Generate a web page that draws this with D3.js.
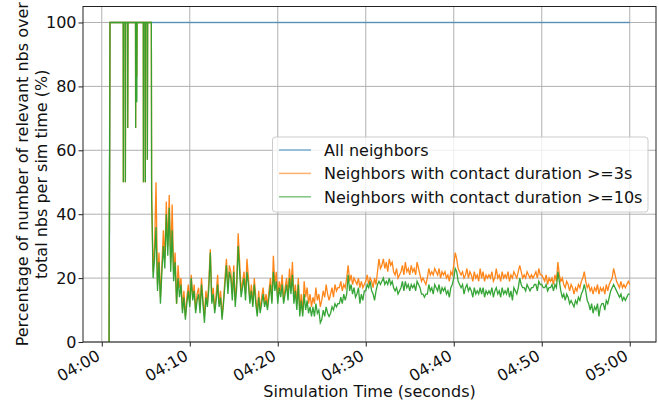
<!DOCTYPE html>
<html><head><meta charset="utf-8">
<script src="https://cdn.jsdelivr.net/npm/d3@7"></script>
<style>body{margin:0;background:#fff} text{font-family:"DejaVu Sans",sans-serif}</style>
</head><body><svg id="c" width="659" height="404"></svg>
<script>
const seriesNames = ["All neighbors", "Neighbors with contact duration >=3s", "Neighbors with contact duration >=10s"];
const seriesColors = ["#1f77b4", "#ff7f0e", "#2ca02c"];
const yTicks = [0, 20, 40, 60, 80, 100];
const xTickLabels = ["04:00", "04:10", "04:20", "04:30", "04:40", "04:50", "05:00"];

// "All neighbors"
const blueTimes = ["04:00:50", "04:00:56", "05:00:00"];
const blueValues = [0, 100, 100];

// early stepped part (orange / green)
const earlyTimes = ["04:00:50","04:00:56","04:02:26","04:02:27","04:02:29","04:02:40","04:02:41","04:02:43",
  "04:02:56","04:02:57","04:02:59","04:03:50","04:03:51","04:03:53","04:03:58","04:03:59","04:04:01",
  "04:04:43","04:04:44","04:04:46","04:04:56","04:04:57","04:04:59","04:05:10","04:05:11","04:05:13","04:05:38"];
const earlyOrange = [0,100,100,50,100,100,50,100,100,67,100,100,67,100,100,83,100,100,50,100,100,50,100,100,57,100,100];
const earlyGreen  = [0,100,100,50,100,100,50,100,100,67,100,100,67,100,100,75,100,100,50,100,100,50,100,100,57,100,100];

// noisy part, sampled every 10 s from 04:05:40
const noisyStart = "04:05:40";
const noisyStepSec = 10;
const orangeNoisy = [
  48,22,
  30,50,18,28,14,24, 35,26,44,30,46,25, 43,22,28,12,24,17, 20,10,16,8,14,18,
  12,21,14,18,10,15, 17,11,20,13,8,16, 12,19,29,14,17,10, 15,21,12,16,8,13,
  20,26,17,24,22,15, 24,13,19,34,25,16, 19,22,15,26,20,13, 18,12,20,14,9,16,
  10,14,17,12,15,11, 16,20,13,27,18,22, 14,19,16,21,13,17, 20,15,23,17,25,14,
  18,12,20,10,15,9, 19,14,17,12,15,11, 14,12,17,13,15,11, 13,16,14,18,15,13,
  15,17,14,18,16,17, 17,19,16,18,17,20, 24,19,21,18,20,19, 18,20,17,19,17,18,
  19,21,18,20,19,17, 20,18,22,26,23,24, 26,23,25,22,26,24, 25,22,21,23,20,21,
  22,24,21,25,22,23, 21,24,22,23,21,25, 23,21,19,20,19,18, 20,23,21,22,21,23,
  22,21,23,20,22,21, 22,20,21,19,22,21, 24,28,26,23,22,21, 22,20,21,23,20,22,
  21,19,22,20,21,19, 23,20,22,19,21,20, 21,20,22,19,20,23, 20,21,19,22,20,21,
  20,22,19,21,20,22, 21,20,22,24,22,20, 21,20,22,21,20,21, 20,21,22,20,23,21,
  21,20,19,21,18,20, 19,20,18,21,19,25, 21,19,20,18,17,19, 18,16,18,17,15,17,
  16,18,17,19,20,22, 19,17,18,16,17,15, 17,16,18,15,17,16, 17,15,18,16,18,19,
  20,23,21,19,18,17, 19,17,18,17,18,19,
  18];
const greenNoisy = [
  45,20,
  26,36,16,25,12,22, 30,23,40,27,42,22, 35,19,25,12,20,14, 18,9,14,7,12,16,
  11,20,13,16,9,13, 15,9,18,12,6,14, 11,17,28,12,15,9, 13,18,11,14,7,12,
  18,24,15,22,20,13, 22,11,17,30,22,14, 17,20,13,22,18,12, 16,11,18,12,8,14,
  9,12,15,11,13,10, 14,18,12,22,16,19, 12,17,14,18,12,15, 18,13,20,15,21,12,
  16,10,18,8,13,8, 15,10,13,9,11,8, 11,8,12,9,10,6, 7,10,8,11,9,8,
  9,11,10,12,11,12, 12,14,12,15,13,15, 21,16,18,15,17,14, 15,17,12,15,13,16,
  16,18,17,19,16,15, 13,16,18,19,18,19, 20,18,19,18,20,18, 19,17,16,17,15,16,
  17,19,16,19,17,18, 16,18,17,18,16,19, 18,17,15,15,14,15, 15,18,16,17,15,18,
  17,16,18,15,17,16, 17,15,16,14,17,18, 20,23,22,19,18,17, 18,15,17,18,16,17,
  16,14,17,15,16,15, 17,15,17,14,16,15, 16,15,17,14,16,17, 15,16,14,17,15,16,
  15,17,14,16,13,17, 16,15,17,20,18,17, 17,16,18,17,16,17, 17,18,18,16,19,18,
  18,17,17,18,16,17, 17,18,16,18,17,22, 19,16,14,15,13,15, 14,12,13,12,11,13,
  12,14,13,15,16,18, 16,13,12,10,12,9, 11,10,12,8,11,12, 12,10,13,12,14,16,
  17,18,17,16,15,14, 15,13,14,13,14,15,
  15];

const svg = d3.select("#c");
const parse = d3.timeParse("%H:%M:%S");
const L = 83, R = 656, T = 6.5, B = 342;
const FS = 16;

const x = d3.scaleTime().domain([parse("03:57:52"), parse("05:02:59")]).range([L, R]);
const y = d3.scaleLinear().domain([0, 105]).range([B, T]);

const t0 = parse(noisyStart);
function buildSeries(earlyVals, noisy) {
  const pts = earlyTimes.map((t, i) => ({t: parse(t), v: earlyVals[i]}));
  noisy.forEach((v, i) => pts.push({t: new Date(t0.getTime() + i * noisyStepSec * 1000), v}));
  return pts;
}
const blue = blueTimes.map((t, i) => ({t: parse(t), v: blueValues[i]}));
const orange = buildSeries(earlyOrange, orangeNoisy);
const green = buildSeries(earlyGreen, greenNoisy);

const xTickDates = xTickLabels.map(s => parse(s + ":00"));

// grid
const g = svg.append("g");
g.selectAll(".gx").data(xTickDates).enter().append("line")
  .attr("x1", d => x(d)).attr("x2", d => x(d)).attr("y1", T).attr("y2", B)
  .attr("stroke", "#b0b0b0").attr("stroke-width", 1);
g.selectAll(".gy").data(yTicks).enter().append("line")
  .attr("x1", L).attr("x2", R).attr("y1", d => y(d)).attr("y2", d => y(d))
  .attr("stroke", "#b0b0b0").attr("stroke-width", 1);

// lines
const line = d3.line().x(d => x(d.t)).y(d => y(d.v));
svg.append("clipPath").attr("id", "pc").append("rect")
  .attr("x", L).attr("y", T).attr("width", R - L).attr("height", B - T);
const pl = svg.append("g").attr("clip-path", "url(#pc)");
pl.append("path").datum(blue).attr("d", line).attr("fill", "none")
  .attr("stroke", seriesColors[0]).attr("stroke-opacity", 0.6).attr("stroke-width", 1.5);
pl.append("path").datum(orange).attr("d", line).attr("fill", "none")
  .attr("stroke", seriesColors[1]).attr("stroke-opacity", 0.95).attr("stroke-width", 1.3);
pl.append("path").datum(green).attr("d", line).attr("fill", "none")
  .attr("stroke", seriesColors[2]).attr("stroke-opacity", 0.95).attr("stroke-width", 1.3);

// axes
const xAxis = svg.append("g").attr("transform", `translate(0,${B})`)
  .call(d3.axisBottom(x).tickValues(xTickDates).tickFormat((d, i) => xTickLabels[i]).tickSize(4.5).tickSizeOuter(0));
xAxis.select(".domain").remove();
xAxis.selectAll(".tick line").attr("stroke", "#222");
xAxis.selectAll(".tick text")
  .attr("font-size", FS).attr("fill", "#111")
  .attr("text-anchor", "end").attr("dy", null).attr("y", null)
  .attr("transform", "translate(-1,17) rotate(-30)");

const yAxis = svg.append("g").attr("transform", `translate(${L},0)`)
  .call(d3.axisLeft(y).tickValues(yTicks).tickSize(4.5).tickSizeOuter(0).tickPadding(2));
yAxis.select(".domain").remove();
yAxis.selectAll(".tick line").attr("stroke", "#222");
yAxis.selectAll(".tick text").attr("font-size", FS).attr("fill", "#111");

// frame
svg.append("rect").attr("x", L).attr("y", T).attr("width", R - L).attr("height", B - T)
  .attr("fill", "none").attr("stroke", "#222").attr("stroke-width", 1);

// labels
svg.append("text").attr("x", (L + R) / 2).attr("y", 397).attr("text-anchor", "middle")
  .attr("font-size", FS).attr("fill", "#111").text("Simulation Time (seconds)");
const yl = svg.append("text").attr("transform", `translate(28,${(T + B) / 2}) rotate(-90)`)
  .attr("text-anchor", "middle").attr("font-size", FS).attr("fill", "#111");
yl.append("tspan").attr("x", 0).attr("dy", 0).text("Percentage of number of relevant nbs over");
yl.append("tspan").attr("x", 0).attr("dy", 18.5).text("total nbs per sim time (%)");

// legend
const lg = svg.append("g");
lg.append("rect").attr("x", 272.5).attr("y", 137).attr("width", 375.5).attr("height", 75)
  .attr("rx", 3).attr("fill", "#fff").attr("fill-opacity", 0.8).attr("stroke", "#cccccc");
seriesNames.forEach((n, i) => {
  const yy = 150 + i * 23.4;
  lg.append("line").attr("x1", 279).attr("x2", 311).attr("y1", yy).attr("y2", yy)
    .attr("stroke", seriesColors[i]).attr("stroke-opacity", 0.6).attr("stroke-width", 1.5);
  lg.append("text").attr("x", 324).attr("y", yy + 5.8).attr("font-size", FS).attr("fill", "#111").text(n);
});
</script></body></html>
